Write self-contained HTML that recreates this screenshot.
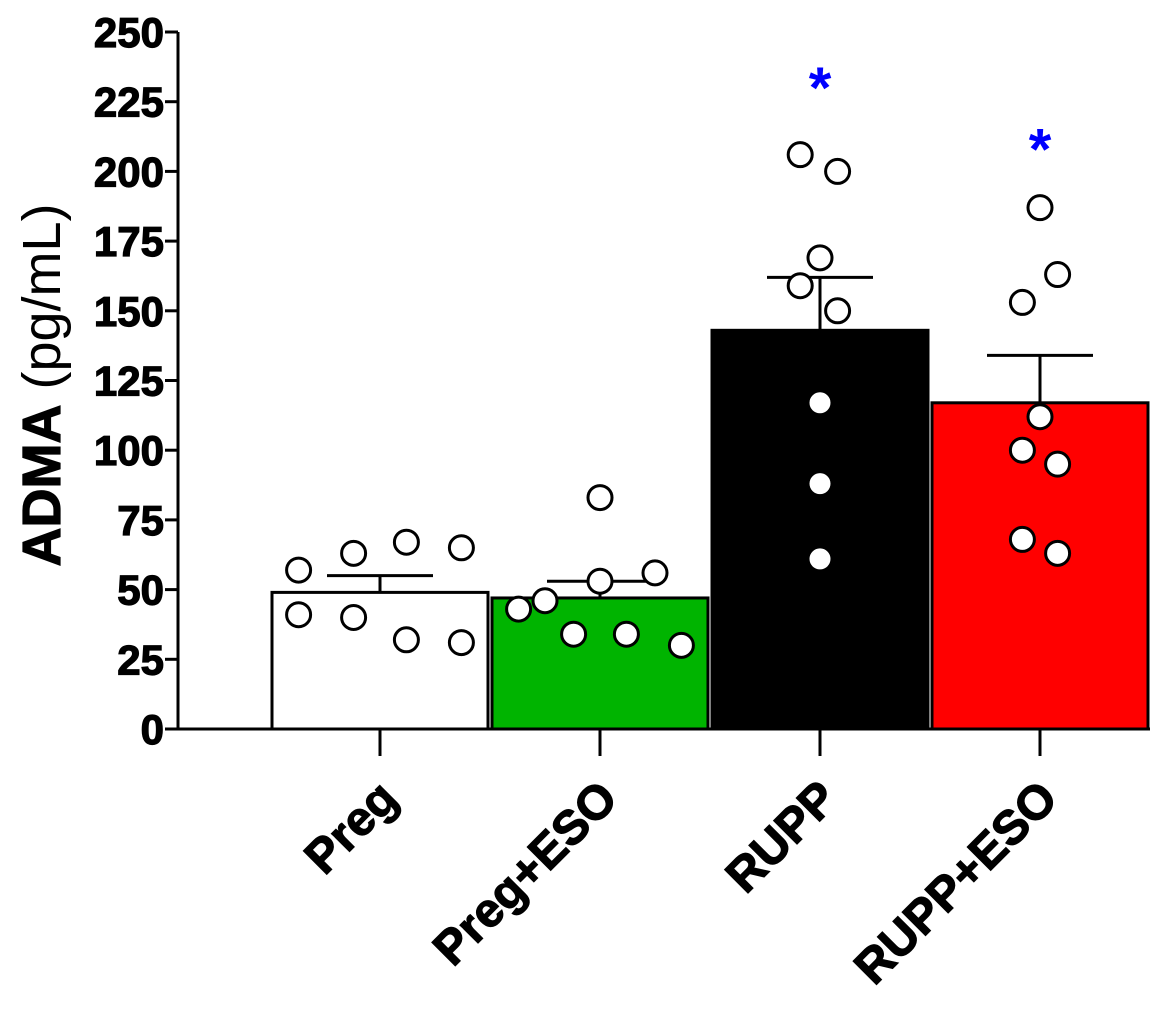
<!DOCTYPE html>
<html><head><meta charset="utf-8"><style>
html,body{margin:0;padding:0;background:#fff;}
svg{display:block;font-family:"Liberation Sans",Arial,sans-serif;}
</style></head><body>
<svg id="chart" width="1170" height="1022"></svg>
<script>
const categories = ["Preg","Preg+ESO","RUPP","RUPP+ESO"];
const means = [49, 47, 143, 117];
const errTops = [55, 53, 162, 134];
const fills = ["#ffffff","#00b400","#000000","#ff0000"];
const pointValues = [
  [57,41,63,40,67,32,65,31],
  [43,46,34,83,53,34,56,30],
  [206,200,169,159,150,117,88,61],
  [187,163,153,112,100,95,68,63]
];
const pointJitter = [
  [-0.37,-0.37,-0.12,-0.12,0.12,0.12,0.37,0.37],
  [-0.37,-0.25,-0.12,0,0,0.12,0.25,0.37],
  [-0.09,0.08,0,-0.09,0.08,0,0,0],
  [0,0.08,-0.08,0,-0.08,0.08,-0.08,0.08]
];
const starValues = [null,null,232,210];
const yTicks = [0,25,50,75,100,125,150,175,200,225,250];

const NS="http://www.w3.org/2000/svg";
const svg=document.getElementById("chart");
const y0=729, yTop=32, yMax=250;
const y=v=>y0-(v/yMax)*(y0-yTop);
const x0=270, step=220;
const xc=i=>x0+step*i+step/2;
const barW=216;
function mk(t,a){const e=document.createElementNS(NS,t);for(const k in a)e.setAttribute(k,a[k]);svg.appendChild(e);return e;}

categories.forEach((c,i)=>{
  const b=mk("rect",{x:xc(i)-barW/2,y:y(means[i]),width:barW,height:y0-y(means[i]),fill:fills[i],stroke:"#000","stroke-width":3});
  
  
  const e2=mk("line",{x1:xc(i),x2:xc(i),y1:y(means[i]),y2:y(errTops[i]),stroke:"#000","stroke-width":3});
  
  
  const cap=mk("line",{x1:xc(i)-53,x2:xc(i)+53,y1:y(errTops[i]),y2:y(errTops[i]),stroke:"#000","stroke-width":3});
  
  
  pointValues[i].forEach((v,j)=>{
    const p=mk("circle",{cx:xc(i)+pointJitter[i][j]*step,cy:y(v),r:12,fill:"#fff",stroke:"#000","stroke-width":3});
    
    
  });
  if(starValues[i]!==null){
    const s=mk("text",{x:xc(i),y:y(starValues[i])+26,"text-anchor":"middle","font-size":58,"font-weight":"bold",fill:"#0000ff"});
    s.textContent="*";
    
    
  }
  const t=mk("line",{x1:xc(i),x2:xc(i),y1:y0,y2:y0+27,stroke:"#000","stroke-width":3});
  
  
  const lx=xc(i)+20, ly=y0+72;
  const l=mk("text",{x:lx,y:ly,"text-anchor":"end","font-size":48,"font-weight":"bold",stroke:"#000","stroke-width":1.2,transform:`rotate(-45 ${lx} ${ly})`});
  l.textContent=c;
  
  
});

const ax=mk("line",{x1:178,x2:178,y1:yTop,y2:y0+1.5,stroke:"#000","stroke-width":3});


const xa=mk("line",{x1:176.5,x2:1150,y1:y0,y2:y0,stroke:"#000","stroke-width":3});


yTicks.forEach(v=>{
  const t=mk("line",{x1:165,x2:178,y1:y(v),y2:y(v),stroke:"#000","stroke-width":3});
  
  
  const l=mk("text",{x:164,y:y(v)+15,"text-anchor":"end","font-size":42,"font-weight":"bold",stroke:"#000","stroke-width":1.2});
  l.textContent=v;
  
  
});
const yt=mk("text",{x:60,y:385,"text-anchor":"middle","font-size":54,transform:"rotate(-90 60 385)"});
yt.innerHTML='<tspan font-weight="bold" stroke="#000" stroke-width="1.2">ADMA</tspan> (pg/mL)';


</script>
</body></html>
